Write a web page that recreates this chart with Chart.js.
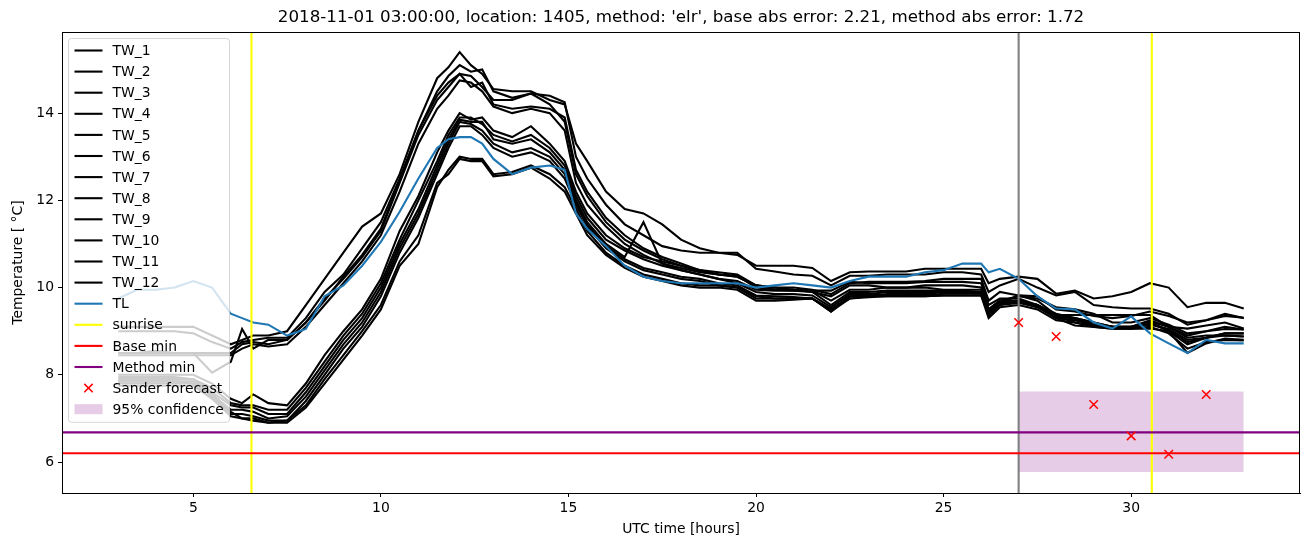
<!DOCTYPE html>
<html>
<head>
<meta charset="utf-8">
<title>TW temperatures</title>
<script src="https://cdn.jsdelivr.net/npm/chart.js@4.4.1/dist/chart.umd.min.js"></script>
<style>
  html, body { margin: 0; padding: 0; background: #fff; }
  #wrap { width: 1310px; height: 547px; }
</style>
</head>
<body>
<div id="wrap"><canvas id="chart" width="1310" height="547"></canvas></div>
<script>
// time axis (UTC hours) shared by all TW / TL series
const hours = [3, 3.5, 4, 4.5, 5, 5.5, 6, 6.3, 6.6, 7, 7.5,
  8, 8.5, 9, 9.5, 10, 10.5, 11, 11.5,
  11.8, 12.1, 12.4, 12.7, 13,
  13.5, 14, 14.5, 14.9, 15.2, 15.5,
  16, 16.5, 17, 17.5, 18, 18.5, 19, 19.5, 20,
  20.5, 21, 21.5, 22, 22.5, 23, 23.5, 24, 24.5, 25, 25.5, 26,
  26.2, 26.5, 27, 27.5, 28, 28.5, 29, 29.5, 30, 30.5, 31, 31.5, 32, 32.5, 33];

const tw1 = [9.1, 9.1, 9.1, 9.1, 9.1, 8.9, 8.7, 8.8, 8.9, 8.9, 9.0,
  9.6, 10.2, 10.8, 11.4, 11.7, 12.6, 13.8, 14.8,
  15.05, 15.4, 15.1, 14.9, 14.55,
  14.5, 14.5, 14.3, 14.2, 13.3, 12.9,
  12.2, 11.8, 11.7, 11.45, 11.1, 10.9, 10.8, 10.75, 10.5,
  10.5, 10.5, 10.45, 10.15, 10.35, 10.37, 10.37, 10.37, 10.43, 10.43, 10.43, 10.43,
  10.1, 10.2, 10.25, 10.2, 9.86, 9.93, 9.75, 9.8, 9.9, 10.1, 10.0, 9.55, 9.65, 9.65, 9.52];
const tw2 = [9.0, 9.0, 9.0, 9.0, 8.95, 8.75, 8.6, 8.75, 8.8, 8.85, 8.85,
  9.3, 9.9, 10.3, 10.9, 11.5, 12.5, 13.6, 14.5,
  14.85, 15.1, 14.95, 15.0, 14.5,
  14.35, 14.45, 14.4, 14.25, 13.0, 12.5,
  11.9, 11.45, 11.2, 10.95, 10.85, 10.8, 10.8, 10.8, 10.43,
  10.37, 10.3, 10.27, 10.05, 10.27, 10.27, 10.3, 10.3, 10.3, 10.35, 10.35, 10.3,
  9.9, 10.05, 10.2, 10.0, 9.82, 9.9, 9.6, 9.55, 9.52, 9.52, 9.4, 9.15, 9.25, 9.4, 9.3];
const tw3 = [8.5, 8.5, 8.5, 8.5, 8.5, 8.5, 8.5, 8.7, 8.75, 8.7, 8.8,
  9.2, 9.75, 10.2, 10.7, 11.3, 12.4, 13.5, 14.3,
  14.6, 14.9, 14.6, 14.7, 14.2,
  14.1, 14.15, 14.1, 13.9, 12.7, 12.2,
  11.6, 11.2, 10.9, 10.7, 10.55, 10.4, 10.35, 10.3, 10.05,
  10.0, 10.0, 9.95, 9.85, 10.1, 10.13, 10.13, 10.13, 10.15, 10.2, 10.2, 10.2,
  9.7, 9.9, 9.82, 9.7, 9.37, 9.37, 9.37, 9.37, 9.37, 9.37, 9.1, 9.06, 9.13, 9.2, 9.06];
const tw4 = [8.45, 8.45, 8.45, 8.45, 8.45, 8.45, 8.45, 8.6, 8.7, 8.65, 8.7,
  9.1, 9.6, 10.1, 10.6, 11.2, 12.2, 13.3, 14.1,
  14.4, 14.75, 14.7, 14.5, 14.15,
  14.0, 14.1, 14.0, 13.6, 12.4, 11.9,
  11.4, 11.0, 10.75, 10.55, 10.45, 10.35, 10.3, 10.25, 10.05,
  9.95, 9.93, 9.93, 9.93, 10.13, 10.1, 10.1, 10.1, 10.13, 10.13, 10.13, 10.1,
  9.6, 9.75, 9.75, 9.6, 9.35, 9.2, 9.13, 9.1, 9.06, 9.22, 9.1, 8.85, 8.9, 8.9, 8.88];
const tw5 = [8.5, 8.5, 8.55, 8.5, 8.5, 8.05, 8.3, 9.05, 8.6, 8.8, 8.8,
  9.2, 9.7, 10.25, 10.75, 11.35, 12.45, 13.6, 14.4,
  14.7, 14.9, 14.85, 14.6, 14.3,
  14.3, 14.45, 14.2, 13.8, 12.6, 12.1,
  11.5, 11.1, 10.85, 10.65, 10.5, 10.37, 10.3, 10.27, 10.0,
  9.95, 9.95, 9.9, 9.8, 10.05, 10.05, 10.0, 10.0, 10.05, 10.05, 10.05, 10.0,
  9.5, 9.7, 9.7, 9.6, 9.3, 9.13, 9.1, 9.06, 9.06, 9.06, 9.0, 8.5, 8.72, 8.83, 8.8];
const tw6 = [8.0, 8.0, 8.0, 8.0, 8.0, 7.8, 7.45, 7.35, 7.55, 7.35, 7.3,
  7.8, 8.45, 9.0, 9.5, 10.2, 11.3, 12.1, 13.1,
  13.6, 14.0, 13.85, 13.9, 13.6,
  13.45, 13.7, 13.3, 12.9, 12.2, 11.7,
  11.2, 10.9, 10.7, 10.6, 10.5, 10.4, 10.3, 10.25, 10.05,
  10.0, 9.95, 9.93, 9.7, 9.95, 9.95, 10.0, 10.0, 10.0, 9.95, 9.95, 9.95,
  9.5, 9.7, 9.8, 9.75, 9.55, 9.5, 9.4, 9.2, 9.2, 9.3, 9.15, 8.95, 9.0, 9.05, 9.04];
const tw7 = [7.95, 7.95, 7.95, 7.95, 7.9, 7.7, 7.35, 7.3, 7.3, 7.2, 7.2,
  7.7, 8.3, 8.9, 9.4, 10.1, 11.1, 12.0, 12.9,
  13.5, 13.9, 13.9, 13.75, 13.5,
  13.35, 13.5, 13.2, 12.8, 12.1, 11.6,
  11.1, 10.85, 10.65, 10.5, 10.4, 10.3, 10.2, 10.15, 9.95,
  9.93, 9.93, 9.9, 9.6, 9.9, 9.9, 9.93, 9.93, 9.93, 9.93, 9.93, 9.9,
  9.45, 9.65, 9.7, 9.6, 9.4, 9.3, 9.2, 9.1, 9.1, 9.15, 9.05, 8.8, 8.85, 8.95, 8.95];
const tw8 = [7.9, 7.9, 7.9, 7.9, 7.9, 7.6, 7.3, 7.25, 7.25, 7.1, 7.1,
  7.6, 8.2, 8.8, 9.3, 10.0, 11.0, 11.8, 12.8,
  13.4, 13.85, 13.8, 13.8, 13.4,
  13.3, 13.4, 13.1, 12.7, 12.0, 11.5,
  11.0, 10.7, 11.5, 10.55, 10.4, 10.3, 10.2, 10.1, 9.9,
  9.85, 9.85, 9.82, 9.55, 9.85, 9.85, 9.9, 9.9, 9.9, 9.9, 9.9, 9.88,
  9.45, 9.62, 9.68, 9.6, 9.35, 9.28, 9.15, 9.1, 9.08, 9.2, 9.02, 8.75, 8.85, 8.95, 8.95];
const tw9 = [7.85, 7.85, 7.85, 7.85, 7.85, 7.55, 7.2, 7.2, 7.15, 7.0, 7.05,
  7.5, 8.1, 8.7, 9.2, 9.9, 10.9, 11.7, 12.7,
  13.3, 13.8, 13.75, 13.6, 13.3,
  13.1, 13.2, 13.0, 12.6, 11.95, 11.45,
  10.95, 10.65, 10.45, 10.35, 10.25, 10.2, 10.1, 10.05, 9.82,
  9.8, 9.78, 9.75, 9.45, 9.8, 9.82, 9.82, 9.82, 9.82, 9.86, 9.86, 9.86,
  9.35, 9.6, 9.7, 9.55, 9.35, 9.3, 9.2, 9.1, 9.1, 9.25, 9.1, 8.9, 9.0, 9.1, 9.04];
const tw10 = [7.8, 7.8, 7.8, 7.8, 7.8, 7.5, 7.1, 7.1, 7.05, 6.95, 6.95,
  7.4, 8.0, 8.6, 9.1, 9.8, 10.8, 11.6, 12.6,
  13.2, 13.7, 13.7, 13.5, 13.2,
  13.0, 13.1, 12.9, 12.5, 11.9, 11.4,
  10.9, 10.6, 10.4, 10.3, 10.2, 10.15, 10.05, 10.0, 9.8,
  9.75, 9.75, 9.75, 9.5, 9.8, 9.82, 9.85, 9.85, 9.85, 9.9, 9.9, 9.9,
  9.4, 9.65, 9.82, 9.8, 9.5, 9.45, 9.35, 9.3, 9.35, 9.45, 9.35, 9.2, 9.25, 9.35, 9.31];
const tw11 = [7.85, 7.85, 7.85, 7.85, 7.8, 7.5, 7.15, 7.0, 7.0, 6.9, 6.9,
  7.25, 7.8, 8.35, 8.9, 9.5, 10.5, 11.0, 12.3,
  12.7, 13.0, 12.95, 12.95, 12.6,
  12.65, 12.8, 12.6, 12.3, 11.8, 11.3,
  10.8, 10.5, 10.3, 10.2, 10.1, 10.05, 10.05, 10.0, 9.75,
  9.75, 9.75, 9.75, 9.45, 9.75, 9.8, 9.8, 9.8, 9.8, 9.82, 9.82, 9.82,
  9.3, 9.55, 9.6, 9.5, 9.25, 9.2, 9.1, 9.06, 9.06, 9.1, 8.95, 8.6, 8.75, 8.8, 8.79];
const tw12 = [7.75, 7.75, 7.75, 7.75, 7.75, 7.45, 7.05, 7.0, 6.95, 6.9, 6.95,
  7.3, 7.9, 8.45, 9.0, 9.6, 10.6, 11.2, 12.4,
  12.6, 12.95, 12.9, 12.9, 12.55,
  12.6, 12.75, 12.5, 12.2, 11.7, 11.2,
  10.75, 10.45, 10.25, 10.15, 10.05, 10.0, 10.0, 9.95, 9.7,
  9.7, 9.72, 9.75, 9.5, 9.75, 9.78, 9.8, 9.8, 9.8, 9.82, 9.82, 9.82,
  9.4, 9.6, 9.65, 9.55, 9.3, 9.25, 9.15, 9.1, 9.1, 9.2, 9.0, 8.7, 8.85, 8.9, 8.88];
const tl = [9.75, 9.95, 9.95, 10.0, 10.15, 10.0, 9.4, 9.3, 9.2, 9.15, 8.9,
  9.05, 9.8, 10.05, 10.5, 11.05, 11.74, 12.5, 13.2,
  13.4, 13.45, 13.45, 13.3, 12.95,
  12.6, 12.75, 12.8, 12.7, 11.7, 11.35,
  10.95, 10.5, 10.25, 10.15, 10.1, 10.1, 10.1, 10.1, 10.0,
  10.05, 10.1, 10.05, 10.0, 10.15, 10.25, 10.25, 10.25, 10.35, 10.4, 10.55, 10.55,
  10.35, 10.43, 10.2, 9.8, 9.52, 9.5, 9.2, 9.06, 9.34, 8.95, 8.72, 8.5, 8.8, 8.72, 8.72];

const sunriseHours = [6.55, 30.55];
const nowHour = 27;
const baseMin = 6.2;
const methodMin = 6.68;
const forecastHours = [27, 28, 29, 30, 31, 32];
const forecastTemps = [9.2, 8.88, 7.32, 6.6, 6.18, 7.55];
const confHours = [27, 33];
const confLow = 5.77;
const confHigh = 7.62;

const xTicks = [5, 10, 15, 20, 25, 30];
const yTicks = [6, 8, 10, 12, 14];
const xRange = [1.5, 34.5];
const yRange = [5.29, 15.86];

const titleText = "2018-11-01 03:00:00, location: 1405, method: 'elr', base abs error: 2.21, method abs error: 1.72";
const FONT = '"DejaVu Sans", sans-serif';
const LW = 2.1;

Chart.defaults.font.family = FONT;
Chart.defaults.color = '#000';

function series(ys) {
  return hours.map((h, i) => ({ x: h, y: ys[i] }));
}

const twList = [tw1, tw2, tw3, tw4, tw5, tw6, tw7, tw8, tw9, tw10, tw11, tw12];
const datasets = [];
twList.forEach((ys, i) => {
  datasets.push({ label: 'TW_' + (i + 1), data: series(ys), borderColor: '#000', borderWidth: LW,
    pointRadius: 0, legendKind: 'line' });
});
datasets.push({ label: 'TL', data: series(tl), borderColor: '#1f77b4', borderWidth: LW, pointRadius: 0, legendKind: 'line' });
sunriseHours.forEach((h, i) => {
  datasets.push({ label: i === 0 ? 'sunrise' : '', data: [{ x: h, y: yRange[0] }, { x: h, y: yRange[1] }],
    borderColor: '#ffff00', borderWidth: LW, pointRadius: 0, legendKind: i === 0 ? 'line' : null });
});
datasets.push({ label: '', data: [{ x: nowHour, y: yRange[0] }, { x: nowHour, y: yRange[1] }],
  borderColor: '#808080', borderWidth: LW, pointRadius: 0 });
datasets.push({ label: 'Base min', data: [{ x: xRange[0], y: baseMin }, { x: xRange[1], y: baseMin }],
  borderColor: '#ff0000', borderWidth: LW, pointRadius: 0, legendKind: 'line' });
datasets.push({ label: 'Method min', data: [{ x: xRange[0], y: methodMin }, { x: xRange[1], y: methodMin }],
  borderColor: '#800080', borderWidth: LW, pointRadius: 0, legendKind: 'line' });
datasets.push({ label: 'Sander forecast', data: forecastHours.map((h, i) => ({ x: h, y: forecastTemps[i] })),
  showLine: false, pointStyle: 'crossRot', pointRadius: 6, pointBorderWidth: 1.5,
  borderColor: '#ff0000', pointBorderColor: '#ff0000', backgroundColor: '#ff0000', legendKind: 'marker' });
datasets.forEach((d, i) => { d.order = 200 - i; d.fill = false; d.tension = 0; });
// confidence band: drawn first, beneath the lines
datasets.push({ label: '', data: confHours.map(h => ({ x: h, y: confLow })), borderWidth: 0, pointRadius: 0,
  fill: false, order: 1000 });
datasets.push({ label: '95% confidence', data: confHours.map(h => ({ x: h, y: confHigh })), borderWidth: 0,
  pointRadius: 0, fill: '-1', backgroundColor: 'rgba(128,0,128,0.2)', order: 999, legendKind: 'patch' });

const frame = {
  id: 'frame',
  afterDatasetsDraw(chart) {
    const ctx = chart.ctx, a = chart.chartArea;
    ctx.save();
    // legend box, upper left inside the axes
    const items = chart.data.datasets.filter(d => d.legendKind);
    const fs = 13.9, rowH = 21.1;
    const bx = a.left + 6.5, by = a.top + 6.5, bw = 161, bh = items.length * rowH + 4;
    ctx.beginPath();
    ctx.roundRect(bx, by, bw, bh, 3);
    ctx.fillStyle = 'rgba(255,255,255,0.8)';
    ctx.fill();
    ctx.strokeStyle = 'rgba(204,204,204,0.8)';
    ctx.lineWidth = 1;
    ctx.stroke();
    ctx.font = fs + 'px ' + FONT;
    ctx.textBaseline = 'middle';
    ctx.textAlign = 'left';
    items.forEach((d, i) => {
      const cy = by + 12 + i * rowH;
      const hx0 = bx + 6, hx1 = bx + 34;
      if (d.legendKind === 'line') {
        ctx.beginPath();
        ctx.moveTo(hx0, cy); ctx.lineTo(hx1, cy);
        ctx.strokeStyle = d.borderColor; ctx.lineWidth = d.borderWidth;
        ctx.stroke();
      } else if (d.legendKind === 'marker') {
        const cx = (hx0 + hx1) / 2, r = 4.2;
        ctx.beginPath();
        ctx.moveTo(cx - r, cy - r); ctx.lineTo(cx + r, cy + r);
        ctx.moveTo(cx - r, cy + r); ctx.lineTo(cx + r, cy - r);
        ctx.strokeStyle = d.borderColor; ctx.lineWidth = 1.5;
        ctx.stroke();
      } else if (d.legendKind === 'patch') {
        ctx.fillStyle = d.backgroundColor;
        ctx.fillRect(hx0, cy - 5, hx1 - hx0, 10);
      }
      ctx.fillStyle = '#000';
      ctx.fillText(d.label, bx + 44, cy + 1);
    });
    ctx.restore();
  },
  afterDraw(chart) {
    const ctx = chart.ctx, a = chart.chartArea;
    ctx.save();
    ctx.strokeStyle = '#000';
    ctx.lineWidth = 1;
    ctx.strokeRect(a.left + 0.5, a.top + 0.5, a.right - a.left - 1, a.bottom - a.top);
    ctx.fillStyle = '#000';
    ctx.textAlign = 'center';
    ctx.textBaseline = 'middle';
    ctx.font = '16.7px ' + FONT;
    ctx.fillText(titleText, (a.left + a.right) / 2, 18);
    ctx.font = '13.9px ' + FONT;
    ctx.fillText('UTC time [hours]', (a.left + a.right) / 2, 529);
    ctx.translate(18, (a.top + a.bottom) / 2);
    ctx.rotate(-Math.PI / 2);
    ctx.fillText('Temperature [ \u00b0C]', 0, 0);
    ctx.restore();
  }
};

new Chart(document.getElementById('chart'), {
  type: 'line',
  data: { datasets },
  options: {
    responsive: false,
    animation: false,
    devicePixelRatio: 1,
    layout: { padding: { top: 32, right: 10, left: 10, bottom: 0 } },
    plugins: { legend: { display: false }, tooltip: { enabled: false }, title: { display: false } },
    scales: {
      x: {
        type: 'linear', min: xRange[0], max: xRange[1],
        afterBuildTicks: s => { s.ticks = xTicks.map(v => ({ value: v })); },
        afterFit: s => { s.height = 54; },
        grid: { display: true, drawOnChartArea: false, drawTicks: true, tickLength: 4, color: '#000' },
        border: { display: true, color: '#000', width: 1 },
        ticks: { color: '#000', padding: 3, font: { size: 13.9 }, maxRotation: 0 }
      },
      y: {
        type: 'linear', min: yRange[0], max: yRange[1],
        afterBuildTicks: s => { s.ticks = yTicks.map(v => ({ value: v })); },
        afterFit: s => { s.width = 52; },
        grid: { display: true, drawOnChartArea: false, drawTicks: true, tickLength: 4, color: '#000' },
        border: { display: true, color: '#000', width: 1 },
        ticks: { color: '#000', padding: 4, font: { size: 13.9 } }
      }
    }
  },
  plugins: [frame]
});
</script>
</body>
</html>
